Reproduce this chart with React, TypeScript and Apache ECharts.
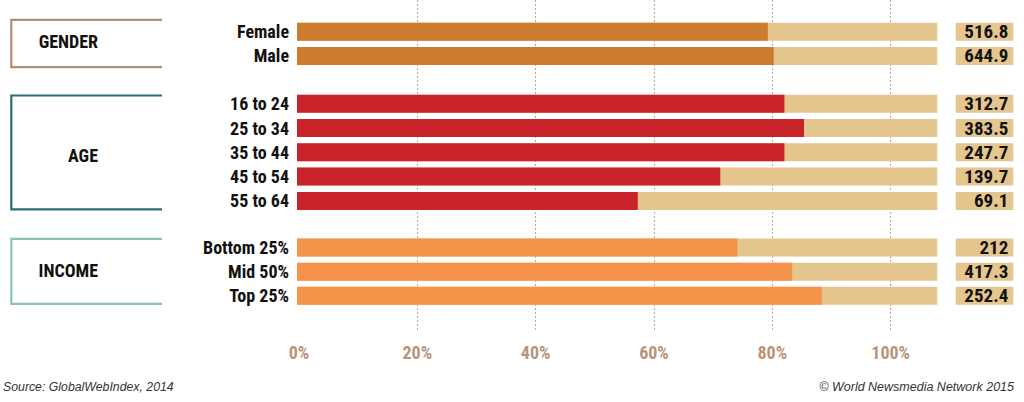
import React, { useEffect, useRef } from "react";
import * as echarts from "echarts";

// ---- data ----
const genderCats = ["Female", "Male"];
const genderShare = [79.3, 80.3];
const genderValues = ["516.8", "644.9"];

const ageCats = ["16 to 24", "25 to 34", "35 to 44", "45 to 54", "55 to 64"];
const ageShare = [82.1, 85.4, 82.1, 71.3, 57.4];
const ageValues = ["312.7", "383.5", "247.7", "139.7", "69.1"];

const incomeCats = ["Bottom 25%", "Mid 50%", "Top 25%"];
const incomeShare = [74.2, 83.4, 88.4];
const incomeValues = ["212", "417.3", "252.4"];

const groupTitles = ["GENDER", "AGE", "INCOME"];
const tickMax = 100;
const tickStep = 20;
const barAxisMax = 107.85;

const FONT = "'Roboto Condensed', 'Liberation Sans Narrow', sans-serif";
const TAN = "#e5c68f";

export default function App() {
  const ref = useRef<HTMLDivElement>(null);

  useEffect(() => {
    if (!ref.current) return;
    const chart = echarts.init(ref.current, null, { renderer: "svg" });

    const groups = [
      { cats: genderCats, share: genderShare, vals: genderValues, color: "#cd7b2e", top: 19.55, height: 48.5 },
      { cats: ageCats, share: ageShare, vals: ageValues, color: "#c9242c", top: 91.55, height: 121.5 },
      { cats: incomeCats, share: incomeShare, vals: incomeValues, color: "#f6944c", top: 235.4, height: 72.5 },
    ];

    const grids: any[] = [{ left: 299, width: 591.7, top: 0, height: 332 }];
    const xAxes: any[] = [
      {
        gridIndex: 0,
        type: "value",
        min: 0,
        max: tickMax,
        interval: tickStep,
        axisLine: { show: false },
        axisTick: { show: false },
        splitLine: {
          show: true,
          showMinLine: false,
          lineStyle: { color: "#c9a48c", type: [2, 2], width: 1 },
        },
        axisLabel: {
          formatter: (v: number) => `${v}%`,
          color: "#b89479",
          fontFamily: FONT,
          fontWeight: "bold",
          fontSize: 18,
          margin: 11,
        },
      },
    ];
    const yAxes: any[] = [{ gridIndex: 0, type: "category", data: [""], show: false }];
    const series: any[] = [];

    groups.forEach((g, i) => {
      const gi = i + 1;
      grids.push({ left: 297, right: 86.7, top: g.top, height: g.height });
      xAxes.push({ gridIndex: gi, type: "value", min: 0, max: barAxisMax, show: false, splitLine: { show: false } });
      const leftIdx = yAxes.length;
      yAxes.push({
        gridIndex: gi,
        type: "category",
        inverse: true,
        data: g.cats,
        axisLine: { show: false },
        axisTick: { show: false },
        axisLabel: {
          interval: 0,
          color: "#111",
          fontFamily: FONT,
          fontWeight: "bold",
          fontSize: 18,
          margin: 8,
        },
      });
      yAxes.push({
        gridIndex: gi,
        type: "category",
        inverse: true,
        position: "right",
        data: g.vals,
        axisLine: { show: false },
        axisTick: { show: false },
        axisLabel: {
          interval: 0,
          color: "#111",
          fontFamily: FONT,
          fontWeight: "bold",
          fontSize: 19,
          margin: 76,
          align: "right",
          width: 52.6,
          height: 18,
          lineHeight: 18,
          padding: [0, 5, 0, 0],
          backgroundColor: TAN,
        },
      });
      series.push({
        type: "bar",
        name: groupTitles[i],
        xAxisIndex: gi,
        yAxisIndex: leftIdx,
        data: g.share,
        barWidth: 18,
        itemStyle: { color: g.color },
        showBackground: true,
        backgroundStyle: { color: TAN, opacity: 1 },
        silent: true,
      });
    });

    const bracket = (y1: number, y2: number, color: string) => ({
      type: "polyline",
      shape: { points: [[162, y1], [11.3, y1], [11.3, y2], [162, y2]] },
      style: { stroke: color, lineWidth: 2.2, fill: null },
      silent: true,
    });
    const title = (text: string, y: number) => ({
      type: "text",
      x: 98,
      y,
      style: {
        text,
        fill: "#111",
        font: `bold 18px ${FONT}`,
        align: "right",
        verticalAlign: "middle",
      },
    });

    chart.setOption({
      animation: false,
      backgroundColor: "#ffffff",
      grid: grids,
      xAxis: xAxes,
      yAxis: yAxes,
      series,
      graphic: [
        bracket(19.8, 67.2, "#b48c73"),
        bracket(95.5, 209.3, "#2e6a78"),
        bracket(238.8, 303.8, "#8cc4af"),
        title(groupTitles[0], 41),
        title(groupTitles[1], 155),
        title(groupTitles[2], 270),
        {
          type: "text",
          x: 3,
          y: 387,
          style: {
            text: "Source: GlobalWebIndex, 2014",
            fill: "#333",
            font: "italic 12.3px 'Liberation Sans', Arial, sans-serif",
            verticalAlign: "middle",
          },
        },
        {
          type: "text",
          x: 1014,
          y: 387,
          style: {
            text: "© World Newsmedia Network 2015",
            fill: "#333",
            font: "italic 12.5px 'Liberation Sans', Arial, sans-serif",
            align: "right",
            verticalAlign: "middle",
          },
        },
      ],
    });

    return () => chart.dispose();
  }, []);

  return (
    <div
      ref={ref}
      style={{ position: "fixed", left: 0, top: 0, width: 1024, height: 402 }}
    />
  );
}
